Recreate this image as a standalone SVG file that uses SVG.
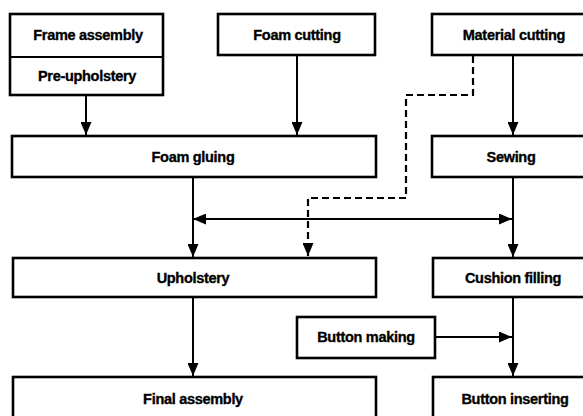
<svg xmlns="http://www.w3.org/2000/svg" width="583" height="416" viewBox="0 0 583 416">
  <defs>
    <style>
      .box { fill: #fff; stroke: #000; stroke-width: 2.6; }
      .lbl { font-family: "Liberation Sans", Arial, sans-serif; font-weight: bold; font-size: 14.5px; text-anchor: middle; fill: #000; stroke: #000; stroke-width: 0.35; letter-spacing: -0.3px; }
      .flow { fill: none; stroke: #000; stroke-width: 2; }
      .dash { fill: none; stroke: #000; stroke-width: 2.2; stroke-dasharray: 7 4; }
    </style>
    <marker id="arrow" viewBox="0 0 13 11" refX="13" refY="5.5" markerWidth="13" markerHeight="11" markerUnits="userSpaceOnUse" orient="auto-start-reverse">
      <path d="M0,0 L13,5.5 L0,11 Z" fill="#000"/>
    </marker>
  </defs>
  <rect width="583" height="416" fill="#fff"/>

  <!-- connectors -->
  <g id="connectors">
    <line class="flow" x1="86" y1="95" x2="86" y2="135" marker-end="url(#arrow)"/>
    <line class="flow" x1="297" y1="55" x2="297" y2="135" marker-end="url(#arrow)"/>
    <line class="flow" x1="513" y1="55" x2="513" y2="135" marker-end="url(#arrow)"/>
    <path class="dash" d="M473,56 V95 H406 V198 H308 V256" marker-end="url(#arrow)"/>
    <line class="flow" x1="193" y1="219" x2="512" y2="219" marker-start="url(#arrow)" marker-end="url(#arrow)"/>
    <line class="flow" x1="193" y1="177" x2="193" y2="257" marker-end="url(#arrow)"/>
    <line class="flow" x1="513" y1="177" x2="513" y2="257" marker-end="url(#arrow)"/>
    <line class="flow" x1="193" y1="297" x2="193" y2="376" marker-end="url(#arrow)"/>
    <line class="flow" x1="513" y1="297" x2="513" y2="376" marker-end="url(#arrow)"/>
    <line class="flow" x1="435" y1="337" x2="512" y2="337" marker-end="url(#arrow)"/>
  </g>

  <!-- nodes -->
  <g id="frame-assembly">
    <rect class="box" x="10" y="14" width="153" height="81"/>
    <line x1="10" y1="57" x2="163" y2="57" stroke="#000" stroke-width="2"/>
    <text class="lbl" x="88" y="40">Frame assembly</text>
    <text class="lbl" x="87" y="81">Pre-upholstery</text>
  </g>
  <g id="foam-cutting">
    <rect class="box" x="218" y="14" width="157" height="41"/>
    <text class="lbl" x="297" y="40">Foam cutting</text>
  </g>
  <g id="material-cutting">
    <rect class="box" x="432" y="14" width="165" height="41"/>
    <text class="lbl" x="514" y="40">Material cutting</text>
  </g>
  <g id="foam-gluing">
    <rect class="box" x="12" y="136" width="364" height="41"/>
    <text class="lbl" x="193" y="162">Foam gluing</text>
  </g>
  <g id="sewing">
    <rect class="box" x="432" y="136" width="165" height="41"/>
    <text class="lbl" x="511" y="162">Sewing</text>
  </g>
  <g id="upholstery">
    <rect class="box" x="13" y="258" width="363" height="39"/>
    <text class="lbl" x="193" y="283">Upholstery</text>
  </g>
  <g id="cushion-filling">
    <rect class="box" x="433" y="258" width="164" height="39"/>
    <text class="lbl" x="513" y="283">Cushion filling</text>
  </g>
  <g id="button-making">
    <rect class="box" x="297" y="317" width="138" height="41"/>
    <text class="lbl" x="366" y="342">Button making</text>
  </g>
  <g id="final-assembly">
    <rect class="box" x="13" y="377" width="363" height="60"/>
    <text class="lbl" x="193" y="404">Final assembly</text>
  </g>
  <g id="button-inserting">
    <rect class="box" x="433" y="377" width="164" height="60"/>
    <text class="lbl" x="515" y="404">Button inserting</text>
  </g>
</svg>
